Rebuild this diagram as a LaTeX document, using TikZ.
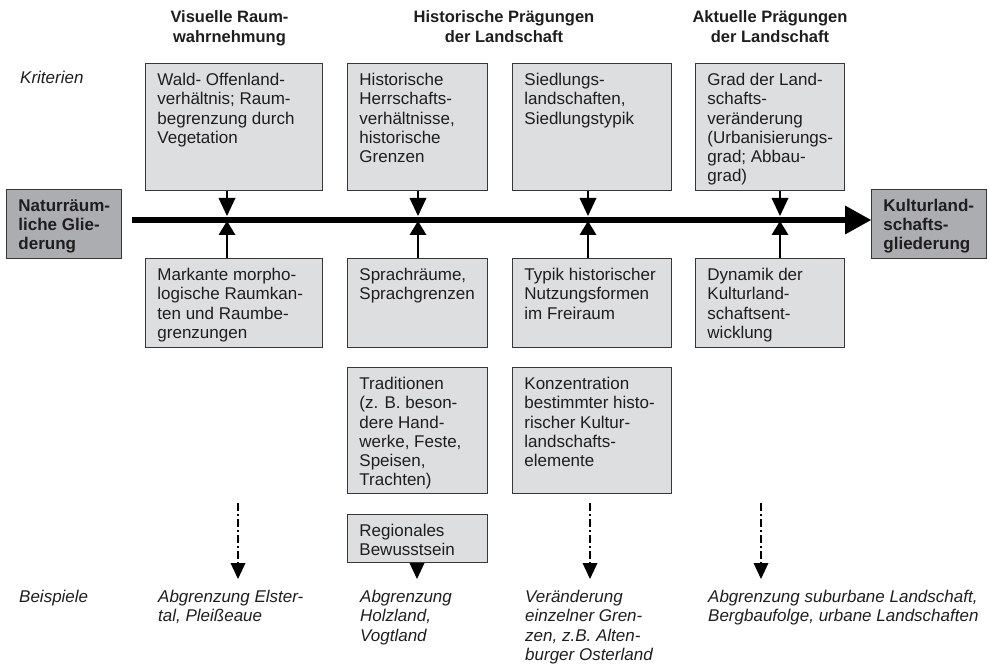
\documentclass[tikz,border=0pt]{standalone}
\usepackage{fontspec}
\setmainfont{Liberation Sans}
\usetikzlibrary{arrows.meta}
\definecolor{boxfill}{RGB}{221,222,224}
\definecolor{sidefill}{RGB}{172,173,176}
\definecolor{edge}{RGB}{55,55,55}
\definecolor{ink}{RGB}{30,30,30}
\tikzset{
  critbox/.style={draw=edge, line width=0.9pt, fill=boxfill, inner xsep=0pt, inner ysep=8.5pt, text=ink,
    font=\fontsize{17}{19.3}\selectfont},
  sidebox/.style={draw=edge, line width=0.9pt, fill=sidefill, inner xsep=0pt, inner ysep=8.5pt, text=ink,
    font=\bfseries\fontsize{17}{19}\selectfont},
  header/.style={inner sep=0pt, anchor=north, align=center, text=ink, font=\bfseries\fontsize{16.5}{20}\selectfont},
  itlabel/.style={inner sep=0pt, anchor=north west, align=left, text=ink, font=\itshape\fontsize{17}{19.5}\selectfont},
  mainarrow/.style={line width=6pt, draw=black, -{Triangle[length=26pt,width=29pt,line width=0pt]}},
  downarr/.style={line width=1.3pt, draw=black, -{Triangle[length=18pt,width=17pt,line width=0pt]}},
  uparr/.style={line width=1.3pt, draw=black, -{Triangle[length=14pt,width=17pt,line width=0pt]}},
  dasharr/.style={line width=1.2pt, draw=black, dash pattern=on 8pt off 3pt on 2pt off 3pt,
    -{Triangle[length=16pt,width=15pt,line width=0pt]}},
  headonly/.style={line width=1.2pt, draw=black, -{Triangle[length=16pt,width=15pt,line width=0pt]}}
}
\newcommand{\gbox}[7][critbox]{%
  \node[#1, anchor=north west] (#2) at (#3,#4)
    {\parbox[c][\dimexpr #6pt-#4pt-17pt\relax][t]{\dimexpr #5pt-#3pt\relax}{\raggedright\leftskip=12pt\hyphenpenalty=10000 \strut #7}};}
\begin{document}
\begin{tikzpicture}[x=1pt,y=-1pt]
\useasboundingbox (0,0) rectangle (989,666);

% headers
\node[header] (h1) at (229.5,8) {\strut Visuelle Raum-\\wahrnehmung};
\node[header] (h2) at (504,8) {\strut Historische Prägungen\\der Landschaft};
\node[header] (h3) at (770,8) {\strut Aktuelle Prägungen\\der Landschaft};

% side labels
\node[itlabel] (krit) at (20,69.4) {\strut Kriterien};
\node[itlabel] (beis) at (19,588.4) {\strut Beispiele};

% top row
\gbox{t1}{145}{63}{322}{190}{Wald- Offenland-\\verhältnis; Raum-\\begrenzung durch\\Vegetation}
\gbox{t2}{347}{63}{487}{190}{Historische\\Herrschafts-\\verhältnisse,\\historische\\Grenzen}
\gbox{t3}{512}{63}{671}{190}{Siedlungs-\\landschaften,\\Siedlungstypik}
\gbox{t4}{695}{63}{844}{190}{Grad der Land-\\schafts-\\veränderung\\(Urbanisierungs-\\grad; Abbau-\\grad)}

% second row
\gbox{b1}{145}{258}{322}{347}{Markante morpho-\\logische Raumkan-\\ten und Raumbe-\\grenzungen}
\gbox{b2}{347}{258}{487}{347}{Sprachräume,\\Sprachgrenzen}
\gbox{b3}{512}{258}{671}{347}{Typik historischer\\Nutzungsformen\\im Freiraum}
\gbox{b4}{695}{258}{844}{347}{Dynamik der\\Kulturland-\\schaftsent-\\wicklung}

% third row
\gbox{r2}{347}{367}{487}{493}{Traditionen\\(z. B. beson-\\dere Hand-\\werke, Feste,\\Speisen,\\Trachten)}
\gbox{r3}{512}{367}{671}{493}{Konzentration\\bestimmter histo-\\rischer Kultur-\\landschafts-\\elemente}
\gbox{reg}{347}{514}{487}{562}{Regionales\\Bewusstsein}

% side boxes
\gbox[sidebox]{left}{6}{189}{121}{258}{Naturräum-\\liche Glie-\\derung}
\gbox[sidebox]{right}{871}{189}{986}{258}{Kulturland-\\schafts-\\gliederung}

% main arrow
\coordinate (ms) at (132,220);
\draw[mainarrow] (ms) -- (right.west |- ms);

% small arrows to the main line
\coordinate (d1) at (227,216); \coordinate (u1) at (227,221);
\coordinate (d2) at (418,216); \coordinate (u2) at (418,221);
\coordinate (d3) at (588,216); \coordinate (u3) at (588,221);
\coordinate (d4) at (780,216); \coordinate (u4) at (780,221);
\draw[downarr] (t1.south -| d1) -- (d1);
\draw[downarr] (t2.south -| d2) -- (d2);
\draw[downarr] (t3.south -| d3) -- (d3);
\draw[downarr] (t4.south -| d4) -- (d4);
\draw[uparr] (b1.north -| u1) -- (u1);
\draw[uparr] (b2.north -| u2) -- (u2);
\draw[uparr] (b3.north -| u3) -- (u3);
\draw[uparr] (b4.north -| u4) -- (u4);

% example arrows
\coordinate (s1) at (238,503); \coordinate (e1) at (238,579);
\coordinate (e2) at (417,579);
\coordinate (s3) at (590,503); \coordinate (e3) at (590,579);
\coordinate (s4) at (761,503); \coordinate (e4) at (761,579);
\draw[dasharr] (s1) -- (e1);
\draw[headonly] (reg.south -| e2) -- (e2);
\draw[dasharr] (s3) -- (e3);
\draw[dasharr] (s4) -- (e4);

% examples
\node[itlabel] (x1) at (158,588.4) {\strut Abgrenzung Elster-\\tal, Pleißeaue};
\node[itlabel] (x2) at (360,588.4) {\strut Abgrenzung\\Holzland,\\Vogtland};
\node[itlabel] (x3) at (525,588.4) {\strut Veränderung\\einzelner Gren-\\zen, z.B. Alten-\\burger Osterland};
\node[itlabel] (x4) at (708,588.4) {\strut Abgrenzung suburbane Landschaft,\\Bergbaufolge, urbane Landschaften};
\end{tikzpicture}
\end{document}
